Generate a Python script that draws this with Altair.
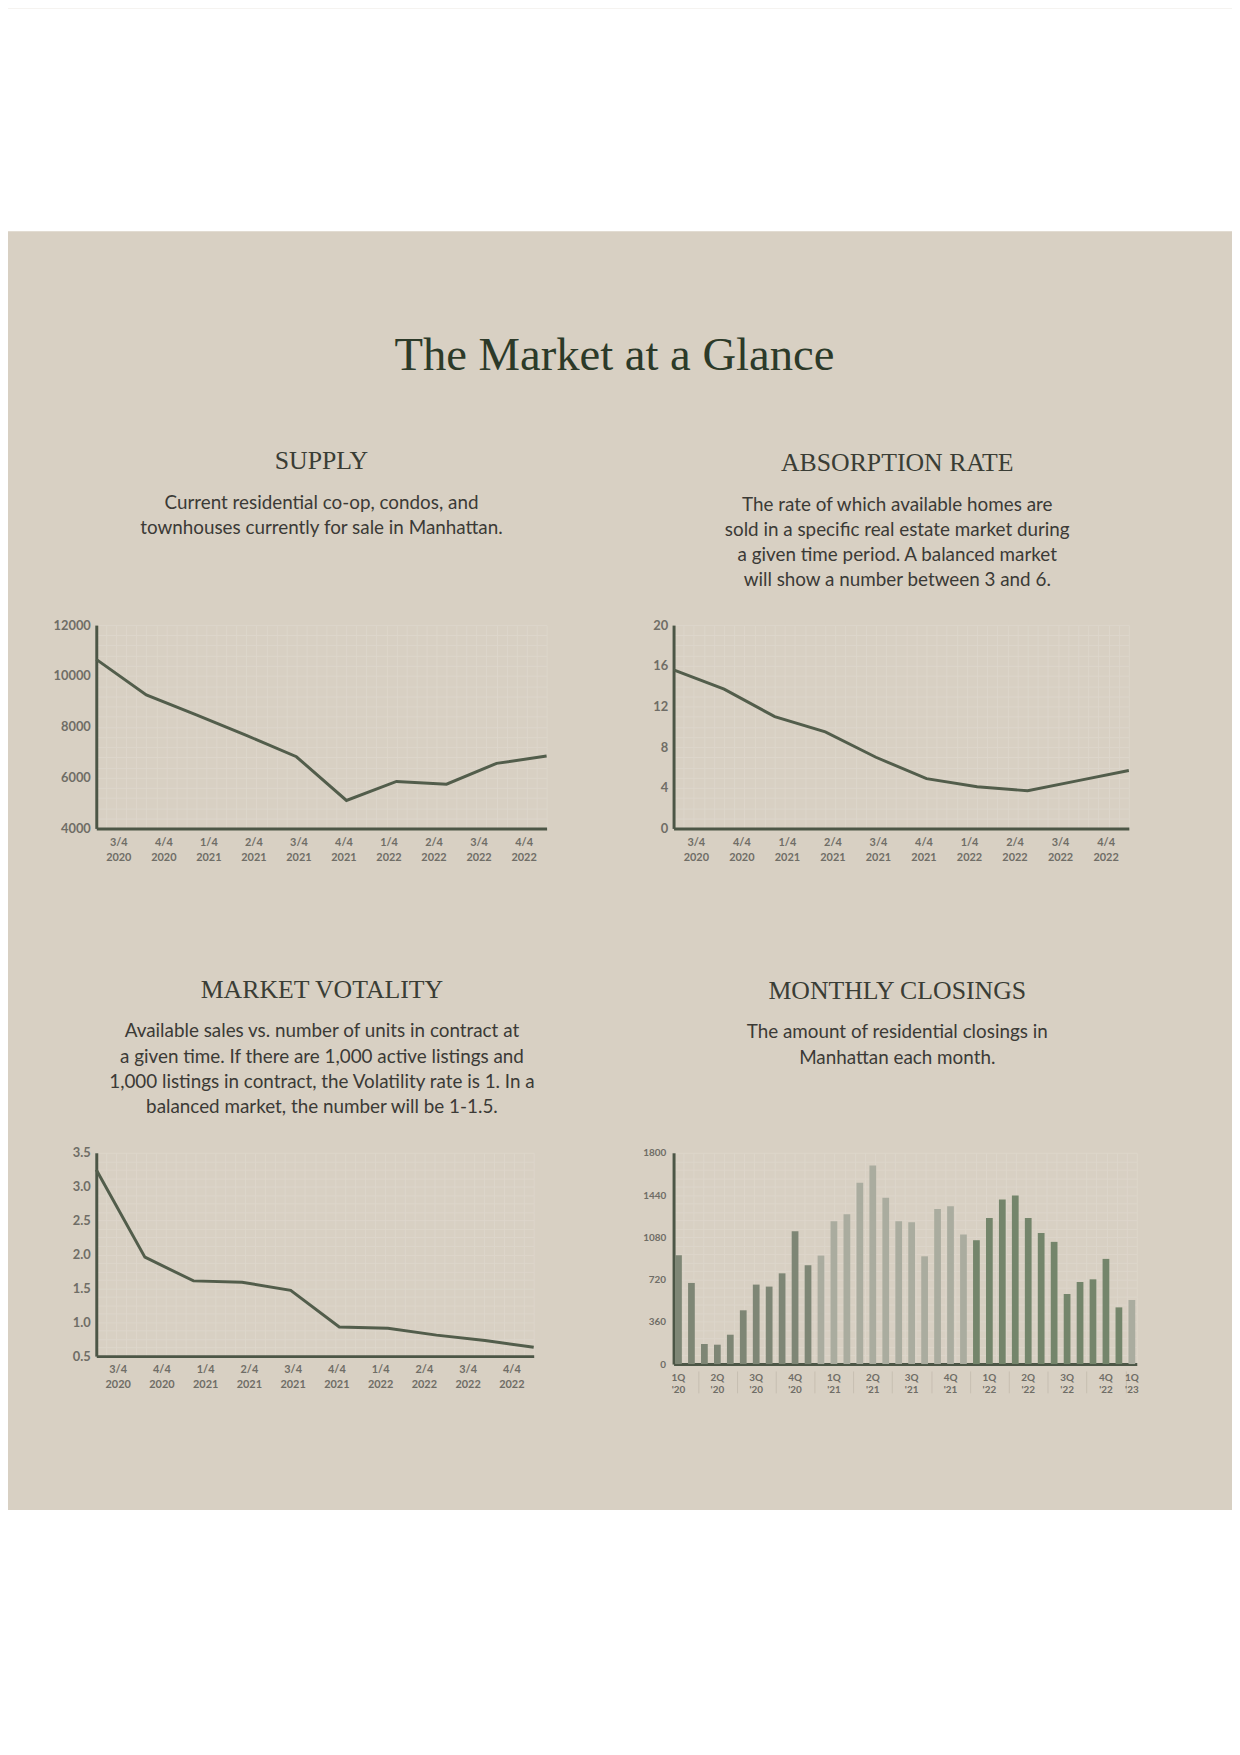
import altair as alt
import pandas as pd
import numpy as np

# ---------------- data ----------------
quarters = ["3/4 2020", "4/4 2020", "1/4 2021", "2/4 2021", "3/4 2021",
            "4/4 2021", "1/4 2022", "2/4 2022", "3/4 2022", "4/4 2022"]
supply = [10650, 9250, 8470, 7660, 6820, 5100, 5850, 5740, 6560, 6850]
absorption = [15.6, 13.7, 11.0, 9.5, 7.0, 4.9, 4.1, 3.7, 4.7, 5.7]
volatility = [3.25, 1.96, 1.61, 1.59, 1.47, 0.93, 0.91, 0.81, 0.73, 0.63]

months = ["2020-02", "2020-03", "2020-04", "2020-05", "2020-06", "2020-07",
          "2020-08", "2020-09", "2020-10", "2020-11", "2020-12",
          "2021-01", "2021-02", "2021-03", "2021-04", "2021-05", "2021-06",
          "2021-07", "2021-08", "2021-09", "2021-10", "2021-11", "2021-12",
          "2022-01", "2022-02", "2022-03", "2022-04", "2022-05", "2022-06",
          "2022-07", "2022-08", "2022-09", "2022-10", "2022-11", "2022-12",
          "2023-01"]
closings = [927, 691, 171, 165, 250, 458, 677, 660, 773, 1132, 842,
            924, 1217, 1277, 1544, 1692, 1416, 1217, 1208, 918, 1322, 1345, 1103,
            1055, 1245, 1402, 1436, 1245, 1117, 1041, 597, 699, 722, 896, 483,
            546]
years = ["2020", "2021", "2022", "2023"]

main_title = "The Market at a Glance"
heads = ["SUPPLY", "ABSORPTION RATE", "MARKET VOTALITY", "MONTHLY CLOSINGS"]
descs = [
    ["Current residential co-op, condos, and",
     "townhouses currently for sale in Manhattan."],
    ["The rate of which available homes are",
     "sold in a specific real estate market during",
     "a given time period. A balanced market",
     "will show a number between 3 and 6."],
    ["Available sales vs. number of units in contract at",
     "a given time. If there are 1,000 active listings and",
     "1,000 listings in contract, the Volatility rate is 1. In a",
     "balanced market, the number will be 1-1.5."],
    ["The amount of residential closings in",
     "Manhattan each month."],
]

# ---------------- style ----------------
BG = "#d8d0c3"
LINE = "#525d4b"
AXIS = "#4c5646"
GRID = "#ddd6ca"
TICK = "#6f6d66"
HEAD = "#3a3d35"
DESC = "#3b3a36"
TITLE = "#2c3a29"
SEP = "#c6beb1"
BAR_COLORS = ["#7e8675", "#aaac9f", "#74856b", "#aaac9f"]
SERIF = "Liberation Serif"
SANS = "Lato"


def fl(a):
    return [float(round(x, 6)) for x in a]


def panel_title(i, offset, dx):
    return alt.TitleParams(
        text=heads[i], subtitle=descs[i], anchor="middle",
        font=SERIF, fontSize=26, fontWeight="normal", color=HEAD,
        subtitleFont=SANS, subtitleFontSize=19, subtitleColor=DESC,
        subtitleLineHeight=25.5, subtitlePadding=20, offset=offset, dx=dx)


def yaxis(values, expr, size, pad):
    return alt.Axis(values=values, grid=True, gridColor=GRID, gridWidth=1,
                    ticks=False, domain=True, domainColor=AXIS, domainWidth=3,
                    labelExpr=expr, labelFont=SANS, labelFontSize=size,
                    labelFontWeight="bold", labelColor=TICK, labelPadding=pad,
                    labelFlush=False, labelOverlap=False, title=None)


def line_panel(values, ymin, ymax, ystep, expr, w, h, ngrid, title):
    df = pd.DataFrame({"q": quarters, "v": values, "i": list(range(len(quarters)))})
    yv = fl(np.arange(ymin, ymax + ystep / 2, ystep))
    y = alt.Y("v:Q", scale=alt.Scale(domain=[ymin, ymax], nice=False, zero=False),
              axis=yaxis(yv, expr, 13, 6))
    base = alt.Chart(df)
    n = len(quarters) - 1
    grid = base.mark_point(opacity=0).encode(
        x=alt.X("i:Q", scale=alt.Scale(domain=[0, n], nice=False, zero=False),
                axis=alt.Axis(orient="top", values=fl(np.linspace(0, n, ngrid + 1)),
                              grid=True, gridColor=GRID, gridWidth=1, ticks=False,
                              labels=False, domain=False, title=None)),
        y=y)
    labels = base.mark_point(opacity=0).encode(
        x=alt.X("q:N", sort=quarters,
                scale=alt.Scale(type="band", paddingInner=0, paddingOuter=0),
                axis=alt.Axis(orient="bottom", labelExpr="split(datum.label, ' ')",
                              labelAngle=0, labelFont=SANS, labelFontSize=11,
                              labelFontWeight="bold", labelColor=TICK,
                              labelPadding=8, labelLineHeight=15, ticks=False,
                              grid=False, domain=True, domainColor=AXIS,
                              domainWidth=3, labelOverlap=False, title=None)),
        y=y)
    line = base.mark_line(color=LINE, strokeWidth=3).encode(
        x=alt.X("q:N", sort=quarters, scale=alt.Scale(type="point", padding=0),
                axis=None),
        y=y)
    return (alt.layer(grid, labels, line)
            .resolve_scale(x="independent")
            .properties(width=w, height=h, title=title))


def bar_panel(w, h, title):
    df = pd.DataFrame({"m": months, "v": closings, "yr": [m[:4] for m in months],
                       "k": list(range(len(months)))})
    po = 0.12
    n = len(months)
    yv = fl(np.arange(0, 1800 + 36, 72))
    y = alt.Y("v:Q", scale=alt.Scale(domain=[0, 1800], nice=False),
              axis=yaxis(yv, "datum.value % 360 == 0 ? format(datum.value, 'd') : ''", 10, 8))
    base = alt.Chart(df)
    kscale = alt.Scale(domain=[po, n - po], nice=False, zero=False)
    grid = base.mark_point(opacity=0).encode(
        x=alt.X("k:Q", scale=kscale,
                axis=alt.Axis(orient="top", values=fl(np.linspace(po, n - po, 47)),
                              grid=True, gridColor=GRID, gridWidth=1, ticks=False,
                              labels=False, domain=False, title=None)),
        y=y)
    qstarts = [i for i, m in enumerate(months) if m[5:7] in ("01", "04", "07", "10")]
    seps = base.mark_point(opacity=0).encode(
        x=alt.X("k:Q", scale=kscale,
                axis=alt.Axis(orient="bottom", values=qstarts, grid=False,
                              ticks=True, tickSize=22, tickColor=SEP, tickWidth=1,
                              offset=7, labels=False, domain=False, title=None)),
        y=y)
    qmid = [m for m in months if m[5:7] in ("02", "05", "08", "11")] + [months[-1]]
    qexpr = ('[(floor((toNumber(slice(datum.label, 5, 7)) - 1) / 3) + 1) + "Q", '
             '"\'" + slice(datum.label, 2, 4)]')
    bars = base.mark_bar().encode(
        x=alt.X("m:N", sort=months,
                scale=alt.Scale(type="band", paddingInner=0.48, paddingOuter=po),
                axis=alt.Axis(orient="bottom", values=qmid, labelExpr=qexpr,
                              labelAngle=0, labelFont=SANS, labelFontSize=10,
                              labelFontWeight="bold", labelColor=TICK,
                              labelPadding=9, labelLineHeight=12, ticks=False,
                              grid=False, domain=True, domainColor=AXIS,
                              domainWidth=3, labelOverlap=False, title=None)),
        y=y,
        color=alt.Color("yr:N", scale=alt.Scale(domain=years, range=BAR_COLORS),
                        legend=None))
    return (alt.layer(grid, seps, bars)
            .resolve_scale(x="independent")
            .properties(width=w, height=h, title=title))


c_supply = line_panel(supply, 4000, 12000, 400,
                      "datum.value % 2000 == 0 ? format(datum.value, 'd') : ''",
                      454, 205, 45, panel_title(0, 82, 0))
c_abs = line_panel(absorption, 0, 20, 1,
                   "datum.value % 4 == 0 ? format(datum.value, 'd') : ''",
                   459, 205, 45, panel_title(1, 29, -4))
c_vol = line_panel(volatility, 0.5, 3.5, 0.125,
                   "(datum.value * 2) % 1 == 0 ? format(datum.value, '.1f') : ''",
                   441, 205, 44, panel_title(2, 30, 7))
c_clo = bar_panel(467, 213, panel_title(3, 81, -8))

grid = alt.concat(
    c_supply, c_abs, c_vol, c_clo, columns=2,
    spacing={"row": 327, "column": 128}, bounds="flush",
    title=alt.TitleParams(text=main_title, font=SERIF, fontSize=47,
                          fontWeight="normal", color=TITLE, anchor="middle",
                          offset=68, dx=19))

empty = pd.DataFrame({"z": pd.Series([], dtype="float")})
leftpad = alt.Chart(empty).mark_point(opacity=0, size=0, strokeWidth=0).encode(
    x=alt.X("z:Q", axis=None), y=alt.Y("z:Q", axis=None)
).properties(width=43, height=1)

spacer = alt.Chart(empty).mark_point(opacity=0, size=0, strokeWidth=0).encode(
    x=alt.X("z:Q", axis=None), y=alt.Y("z:Q", axis=None)
).properties(width=1234, height=225,
             view=alt.ViewBackground(fill="white", stroke="white", strokeWidth=0))

row = alt.hconcat(leftpad, grid, spacing=0)

chart = alt.vconcat(spacer, row, spacing=102).properties(
    padding={"left": -1, "top": -6, "right": 0, "bottom": 109}
).configure(background=BG).configure_view(stroke="transparent")

chart.save("out.html", embed_options={"renderer": "svg", "actions": False})
